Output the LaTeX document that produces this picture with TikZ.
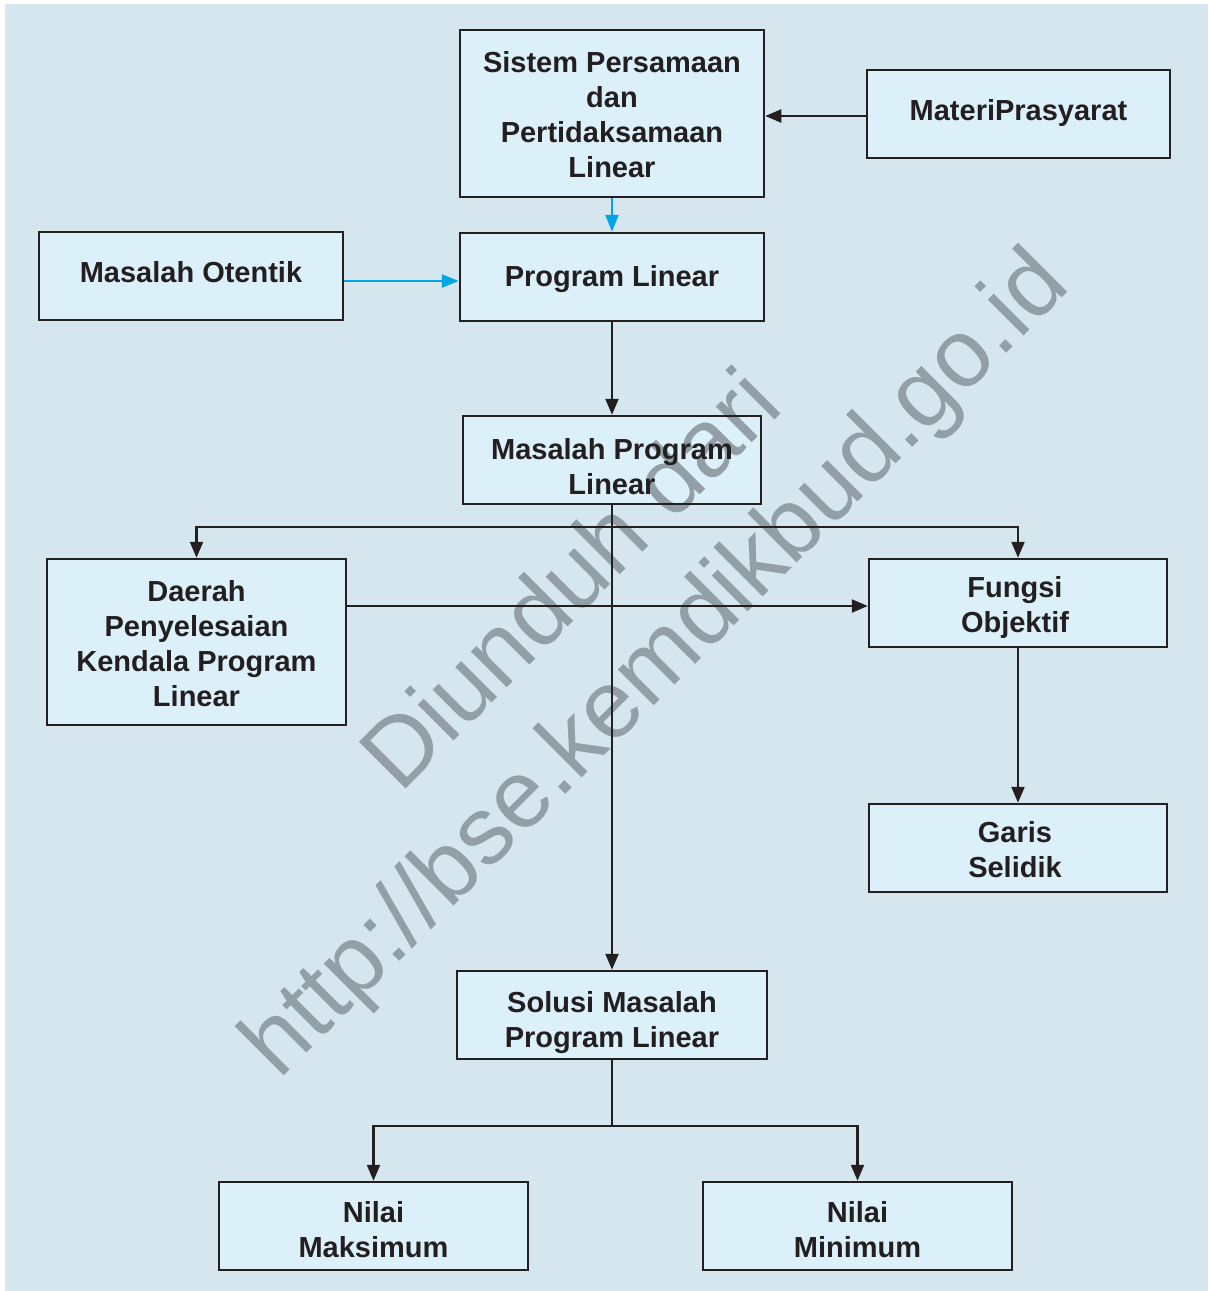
\documentclass[tikz,border=0pt]{standalone}
\usepackage{fontspec}
\setmainfont{Liberation Sans}
\usetikzlibrary{arrows.meta,calc}
\definecolor{bgc}{HTML}{D5E6EE}
\definecolor{boxfill}{HTML}{DCF0FA}
\definecolor{ink}{HTML}{231F20}
\definecolor{bluec}{HTML}{00A6E4}
\definecolor{wmgray}{HTML}{939FA6}
\pgfdeclarelayer{bgl}
\pgfdeclarelayer{wm}
\pgfsetlayers{bgl,wm,main}
\tikzset{
  box/.style={draw=ink, line width=2.5pt, inner sep=0pt},
  lbl/.style={align=center, inner sep=0pt, text=ink,
    font=\fontsize{29}{35}\selectfont\bfseries},
  arr/.style={draw=ink, line width=2.3pt, -{Triangle[length=16pt,width=13pt]}},
  barr/.style={draw=ink, line width=2.3pt, {Triangle[length=16pt,width=13pt]}-{Triangle[length=16pt,width=13pt]}},
  plain/.style={draw=ink, line width=2.3pt},
  bluearr/.style={draw=bluec, line width=2.3pt, -{Triangle[length=17pt,width=13pt]}},
  wmtext/.style={rotate=45, anchor=base, inner sep=0pt, text=wmgray, font=\fontsize{96}{96}\selectfont}
}
\begin{document}
\begin{tikzpicture}[x=1pt,y=-1pt]
\useasboundingbox (0,0) rectangle (1208,1291);
% nodes
\node[box, minimum width=304pt, minimum height=167pt,
  label={[lbl,yshift=-1pt]center:{Sistem Persamaan\\dan\\Pertidaksamaan\\Linear}}] (sistem) at (612,113.5) {};
\node[box, minimum width=303pt, minimum height=88pt,
  label={[lbl,yshift=1pt]center:{MateriPrasyarat}}] (materi) at (1018.5,114) {};
\node[box, minimum width=304pt, minimum height=88pt,
  label={[lbl,yshift=4pt]center:{Masalah Otentik}}] (otentik) at (191,276) {};
\node[box, minimum width=304pt, minimum height=88pt,
  label={[lbl,yshift=-2pt]center:{Program Linear}}] (prog) at (612,277) {};
\node[box, minimum width=298pt, minimum height=88pt,
  label={[lbl,yshift=-7pt]center:{Masalah Program\\Linear}}] (mpl) at (612,460) {};
\node[box, minimum width=299pt, minimum height=166pt,
  label={[lbl,yshift=-2pt]center:{Daerah\\Penyelesaian\\Kendala Program\\Linear}}] (daerah) at (196.5,642) {};
\node[box, minimum width=298pt, minimum height=88pt,
  label={[lbl,yshift=-4pt,xshift=-3pt]center:{Fungsi\\Objektif}}] (fungsi) at (1018,603) {};
\node[box, minimum width=298pt, minimum height=88pt,
  label={[lbl,yshift=-2pt,xshift=-3pt]center:{Garis\\Selidik}}] (garis) at (1018,848) {};
\node[box, minimum width=310pt, minimum height=88pt,
  label={[lbl,yshift=-8pt]center:{Solusi Masalah\\Program Linear}}] (solusi) at (612,1015) {};
\node[box, minimum width=309pt, minimum height=88pt,
  label={[lbl,yshift=-4pt]center:{Nilai\\Maksimum}}] (maks) at (373.5,1226) {};
\node[box, minimum width=309pt, minimum height=88pt,
  label={[lbl,yshift=-4pt]center:{Nilai\\Minimum}}] (mini) at (857.5,1226) {};
% fills and background
\begin{pgfonlayer}{bgl}
\fill[bgc] (5,4) rectangle (1208,1291);
\foreach \n in {sistem,materi,otentik,prog,mpl,daerah,fungsi,garis,solusi,maks,mini}
  \fill[boxfill] (\n.south west) rectangle (\n.north east);
\end{pgfonlayer}
% watermark
\begin{pgfonlayer}{wm}
\node[wmtext] (wm1) at (593,602) {Diunduh dari};
\node[wmtext] (wm2) at (676,684) {http://bse.kemdikbud.go.id};
\end{pgfonlayer}
% connectors
\coordinate (br) at (612,527);
\coordinate (br2) at (612,1126);
\path ([yshift=-2pt]materi.west) coordinate (m1);
\draw[arr] (m1) -- (m1 -| sistem.east);
\draw[bluearr] (sistem.south) -- (prog.north);
\path ([yshift=-5pt]otentik.east) coordinate (o1);
\draw[bluearr] (o1) -- (o1 -| prog.west);
\draw[arr] (prog.south) -- (mpl.north);
\draw[arr] (mpl.south) -- (solusi.north);
\draw[barr] (daerah.north) -- (daerah.north |- br) -- (fungsi.north |- br) -- (fungsi.north);
\path ([yshift=36pt]daerah.east) coordinate (d1);
\draw[arr] (d1) -- (d1 -| fungsi.west);
\draw[arr] (fungsi.south) -- (garis.north);
\draw[plain] (solusi.south) -- (br2);
\draw[barr] (maks.north) -- (maks.north |- br2) -- (mini.north |- br2) -- (mini.north);
\end{tikzpicture}
\end{document}
